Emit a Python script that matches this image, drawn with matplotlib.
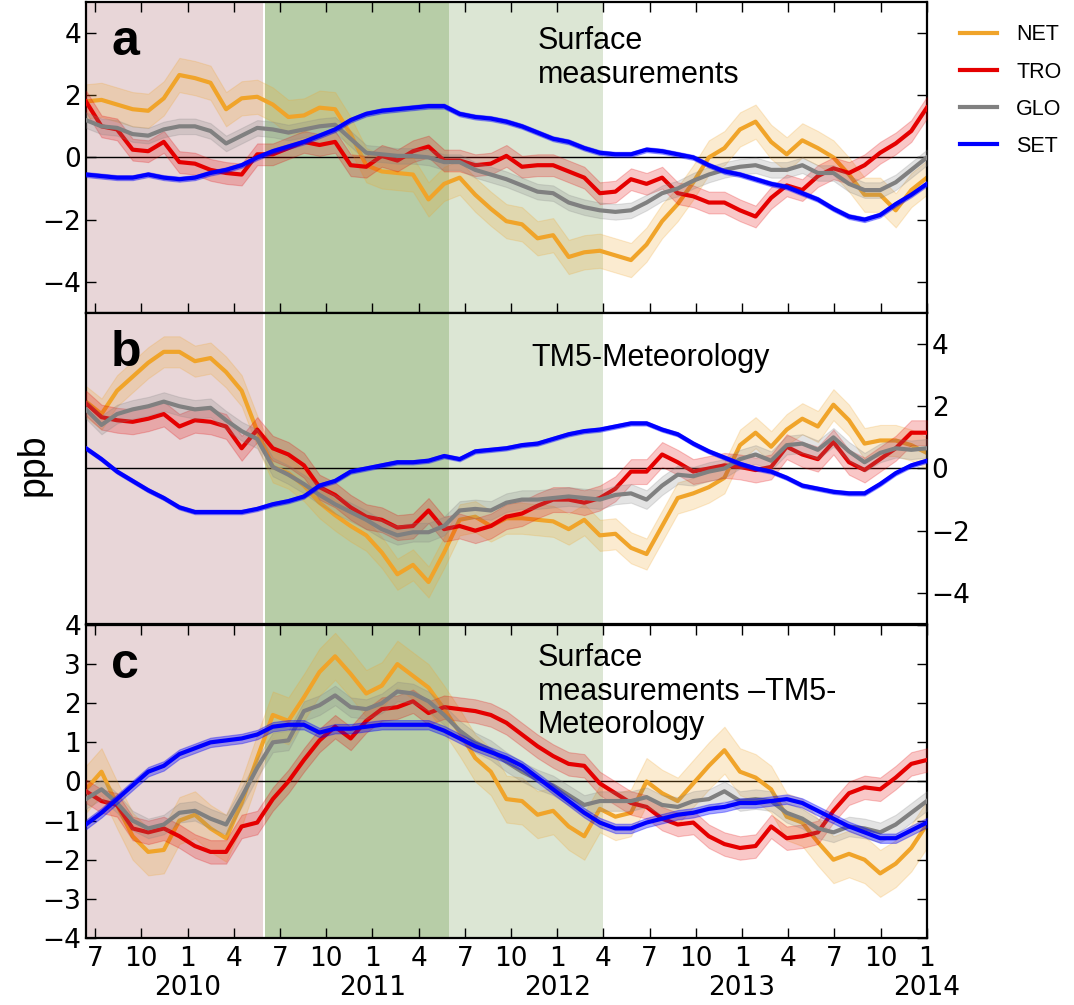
import numpy as np
import matplotlib.pyplot as plt
import matplotlib.transforms as mtransforms

# series order and colours
names = ['NET', 'TRO', 'GLO', 'SET']
colors = ['#F0A42A', '#E50000', '#808080', '#0000FF']

# monthly points, time in months since Jan 2009 (first point ~ late Jun 2009, last Jan 2014)
n_pts = 55
months = np.linspace(5.4, 60.0, n_pts)

# panel a: surface measurements
net_a = [1.8, 1.85, 1.7, 1.55, 1.5, 1.9, 2.65, 2.55, 2.4, 1.55, 1.9, 1.95, 1.7, 1.3, 1.35,
         1.6, 1.55, 0.75, -0.25, -0.45, -0.5, -0.55, -1.35, -0.85, -0.65, -1.2, -1.65, -2.05,
         -2.15, -2.6, -2.5, -3.2, -3.05, -3.0, -3.15, -3.3, -2.8, -2.05, -1.5, -0.8, 0.0, 0.3,
         0.9, 1.15, 0.5, 0.1, 0.55, 0.3, 0.0, -0.55, -1.2, -1.2, -1.7, -1.05, -0.65]
tro_a = [1.8, 1.0, 0.9, 0.25, 0.2, 0.5, -0.15, -0.2, -0.4, -0.5, -0.55, 0.1, 0.1, 0.3, 0.5,
         0.4, 0.5, -0.25, -0.3, 0.05, -0.1, 0.2, 0.35, -0.1, -0.1, -0.25, -0.2, 0.05, -0.3,
         -0.25, -0.25, -0.45, -0.65, -1.15, -1.1, -0.7, -0.85, -0.65, -1.15, -1.25, -1.45,
         -1.45, -1.7, -1.9, -1.3, -0.9, -1.05, -0.6, -0.35, -0.5, -0.25, 0.15, 0.45, 0.85, 1.6]
glo_a = [1.2, 1.0, 0.95, 0.75, 0.7, 0.9, 1.0, 1.0, 0.85, 0.45, 0.7, 0.95, 0.9, 0.8, 0.9,
         1.0, 1.05, 0.6, 0.15, 0.1, 0.05, 0.05, 0.0, -0.15, -0.15, -0.4, -0.55, -0.7, -0.9,
         -1.1, -1.15, -1.45, -1.6, -1.7, -1.75, -1.7, -1.45, -1.15, -1.0, -0.75, -0.55, -0.4,
         -0.3, -0.25, -0.4, -0.4, -0.25, -0.5, -0.5, -0.85, -1.05, -1.05, -0.8, -0.4, 0.0]
set_a = [-0.55, -0.6, -0.65, -0.65, -0.55, -0.65, -0.7, -0.65, -0.5, -0.4, -0.25, 0.0, 0.2,
         0.35, 0.5, 0.7, 0.9, 1.2, 1.4, 1.5, 1.55, 1.6, 1.65, 1.65, 1.4, 1.3, 1.25, 1.15, 1.0,
         0.8, 0.6, 0.5, 0.3, 0.15, 0.1, 0.1, 0.25, 0.2, 0.1, 0.0, -0.25, -0.45, -0.55, -0.7,
         -0.85, -0.95, -1.15, -1.35, -1.65, -1.9, -2.0, -1.85, -1.5, -1.2, -0.85]

# panel b: TM5-Meteorology
net_b = [2.15, 1.75, 2.5, 2.95, 3.4, 3.75, 3.75, 3.45, 3.55, 3.1, 2.5, 1.2, 0.05, -0.15, -0.55,
         -1.1, -1.5, -1.85, -2.15, -2.7, -3.4, -3.1, -3.65, -2.7, -1.65, -1.55, -1.85, -1.6,
         -1.6, -1.65, -1.7, -1.95, -1.65, -2.15, -2.1, -2.55, -2.75, -1.85, -0.95, -0.8, -0.6,
         -0.3, 0.75, 1.15, 0.7, 1.25, 1.6, 1.35, 2.05, 1.55, 0.8, 0.9, 0.9, 0.75, 0.5]
tro_b = [2.1, 1.65, 1.55, 1.5, 1.6, 1.75, 1.35, 1.55, 1.5, 1.35, 0.65, 1.25, 0.65, 0.45, 0.1,
         -0.6, -0.85, -1.25, -1.55, -1.65, -1.9, -1.85, -1.35, -1.95, -1.85, -2.0, -1.85,
         -1.55, -1.45, -1.2, -1.0, -1.0, -1.1, -0.95, -0.65, -0.1, -0.1, 0.45, 0.2, -0.1, 0.0,
         0.1, 0.05, -0.05, 0.05, 0.7, 0.45, 0.3, 0.85, 0.2, -0.05, 0.3, 0.65, 1.15, 1.15]
glo_b = [1.9, 1.4, 1.75, 1.9, 2.0, 2.15, 2.0, 1.9, 1.95, 1.55, 1.2, 0.95, 0.05, -0.2, -0.5,
         -0.85, -1.15, -1.4, -1.65, -1.95, -2.15, -2.05, -2.05, -1.85, -1.35, -1.3, -1.35,
         -1.1, -1.0, -1.0, -0.95, -0.9, -0.95, -1.0, -0.85, -0.8, -1.0, -0.55, -0.2, -0.25,
         -0.1, 0.0, 0.3, 0.45, 0.25, 0.75, 0.8, 0.6, 1.0, 0.55, 0.2, 0.5, 0.65, 0.6, 0.65]
set_b = [0.65, 0.3, -0.1, -0.4, -0.7, -0.95, -1.25, -1.4, -1.4, -1.4, -1.4, -1.3, -1.15, -1.05,
         -0.9, -0.55, -0.4, -0.1, 0.0, 0.1, 0.2, 0.2, 0.25, 0.4, 0.3, 0.55, 0.6, 0.65, 0.75,
         0.8, 0.95, 1.1, 1.2, 1.25, 1.35, 1.45, 1.45, 1.25, 1.1, 0.8, 0.55, 0.35, 0.15, 0.0,
         -0.1, -0.3, -0.55, -0.65, -0.75, -0.8, -0.8, -0.5, -0.15, 0.1, 0.25]

# panel c: surface measurements - TM5-Meteorology
net_c = [-0.2, 0.25, -0.6, -1.4, -1.8, -1.75, -1.0, -0.85, -1.2, -1.45, -0.55, 0.6, 1.7, 1.55,
         2.15, 2.8, 3.2, 2.75, 2.25, 2.45, 3.0, 2.7, 2.4, 1.85, 1.25, 0.6, 0.25, -0.45, -0.5,
         -0.85, -0.75, -1.15, -1.4, -0.7, -0.9, -0.8, 0.0, -0.3, -0.5, -0.05, 0.4, 0.8, 0.25,
         0.1, -0.2, -0.9, -1.05, -1.55, -2.0, -1.85, -2.0, -2.35, -2.1, -1.7, -1.1]
tro_c = [-0.25, -0.5, -0.6, -1.2, -1.3, -1.2, -1.4, -1.65, -1.8, -1.8, -1.15, -1.05, -0.45,
         0.0, 0.55, 1.05, 1.4, 1.1, 1.55, 1.85, 1.9, 2.05, 1.75, 1.9, 1.85, 1.8, 1.7, 1.5, 1.2,
         0.9, 0.65, 0.45, 0.4, -0.05, -0.3, -0.55, -0.65, -0.95, -1.1, -1.05, -1.4, -1.6, -1.7,
         -1.65, -1.15, -1.45, -1.4, -1.3, -0.75, -0.3, -0.15, -0.2, 0.1, 0.45, 0.55]
glo_c = [-0.45, -0.2, -0.55, -1.0, -1.2, -1.1, -0.8, -0.75, -0.95, -1.1, -0.4, 0.35, 1.0, 1.05,
         1.8, 1.95, 2.2, 1.9, 1.85, 2.0, 2.3, 2.25, 2.05, 1.7, 1.3, 1.0, 0.8, 0.5, 0.25, 0.05,
         -0.1, -0.35, -0.6, -0.5, -0.5, -0.5, -0.4, -0.6, -0.65, -0.5, -0.45, -0.25, -0.5,
         -0.45, -0.5, -0.8, -0.95, -1.2, -1.3, -1.15, -1.2, -1.3, -1.1, -0.8, -0.5]
set_c = [-1.1, -0.8, -0.45, -0.1, 0.25, 0.4, 0.7, 0.85, 1.0, 1.05, 1.1, 1.2, 1.4, 1.45, 1.45,
         1.25, 1.35, 1.35, 1.4, 1.45, 1.45, 1.45, 1.45, 1.3, 1.1, 0.9, 0.75, 0.6, 0.4, 0.1,
         -0.2, -0.5, -0.8, -1.05, -1.2, -1.2, -1.05, -0.95, -0.85, -0.8, -0.7, -0.65, -0.55,
         -0.55, -0.5, -0.45, -0.55, -0.75, -0.95, -1.15, -1.3, -1.45, -1.45, -1.25, -1.05]

# uncertainty half-widths (NET, TRO, GLO, SET) per panel
spread_a = [0.55, 0.35, 0.25, 0.08]
spread_b = [0.5, 0.4, 0.3, 0.07]
spread_c = [0.6, 0.3, 0.25, 0.12]

panel_titles = ['Surface\nmeasurements', 'TM5-Meteorology',
                'Surface\nmeasurements \u2013TM5-\nMeteorology']
panel_letters = ['a', 'b', 'c']

# shaded periods (months since Jan 2009)
period_bounds = [(5.4, 16.87), (17.0, 29.0), (29.0, 39.0)]
period_colors = ['#E8D6D8', '#B7CDA7', '#DCE6D4']

txt_font = 'Liberation Sans'
plt.rcParams['font.family'] = 'DejaVu Sans'

fig = plt.figure(figsize=(10.74, 10.05), dpi=100)
ax_a = fig.add_axes([0.080, 0.6886, 0.783, 0.3095])
ax_b = fig.add_axes([0.080, 0.3791, 0.783, 0.3095], sharex=ax_a)
ax_c = fig.add_axes([0.080, 0.0667, 0.783, 0.3114], sharex=ax_a)
axes = [ax_a, ax_b, ax_c]

panels = [[net_a, tro_a, glo_a, set_a],
          [net_b, tro_b, glo_b, set_b],
          [net_c, tro_c, glo_c, set_c]]
spreads = [spread_a, spread_b, spread_c]

# ticks every 3 months, labelled by month number; year written under January
tick_months = np.arange(6, 61, 3)
tick_labels = [str(m % 12 + 1) for m in tick_months]
year_months = [m for m in tick_months if m % 12 == 0]

handles = []
for i, ax in enumerate(axes):
    for (x0, x1), c in zip(period_bounds, period_colors):
        ax.axvspan(x0, x1, color=c, lw=0, zorder=0)
    ax.axhline(0, color='black', lw=1, zorder=1)

    for j, vals in enumerate(panels[i]):
        vals = np.array(vals)
        alpha = 0.35 if names[j] == 'SET' else 0.22
        ax.fill_between(months, vals - spreads[i][j], vals + spreads[i][j],
                        color=colors[j], alpha=alpha, lw=0.8, zorder=2 + j)
        line, = ax.plot(months, vals, color=colors[j], lw=3, zorder=2.5 + j,
                        label=names[j])
        if i == 0:
            handles.append(line)

    ax.set_xlim(5.4, 60)
    for s in ax.spines.values():
        s.set_linewidth(1.6)
    ax.tick_params(direction='in', length=7, width=1, labelsize=19,
                   top=True, right=True, bottom=True, left=True)

    ax.text(0.03, 0.83, panel_letters[i], transform=ax.transAxes, fontsize=36,
            fontweight='bold', family=txt_font, va='baseline', zorder=10)

# y axes
ax_a.set_ylim(-5, 5)
ax_a.set_yticks([-4, -2, 0, 2, 4])
ax_b.set_ylim(-5, 5)
ax_b.set_yticks([-4, -2, 0, 2, 4])
ax_c.set_ylim(-4, 4)
ax_c.set_yticks(np.arange(-4, 5, 1))

# panel b: labels on right, no x ticks
ax_b.tick_params(axis='y', left=False, labelleft=False, right=True, labelright=True)
ax_b.tick_params(axis='x', top=False, bottom=False, labelbottom=False)
ax_a.tick_params(axis='x', labelbottom=False)

ax_c.set_xticks(tick_months)
ax_c.set_xticklabels(tick_labels)
ax_c.tick_params(axis='x', pad=6)

trans = mtransforms.blended_transform_factory(ax_c.transData, ax_c.transAxes)
for m in year_months:
    ax_c.text(m, -0.118, str(2009 + m // 12), transform=trans, fontsize=19,
              ha='center', va='top', clip_on=False)

# panel titles (baseline of the last line)
ax_a.text(0.537, 0.74, panel_titles[0], transform=ax_a.transAxes, fontsize=22,
          family=txt_font, va='baseline', linespacing=1.15)
ax_b.text(0.530, 0.829, panel_titles[1], transform=ax_b.transAxes, fontsize=22,
          family=txt_font, va='baseline')
ax_c.text(0.537, 0.655, panel_titles[2], transform=ax_c.transAxes, fontsize=22,
          family=txt_font, va='baseline', linespacing=1.15)

fig.text(0.031, 0.538, 'ppb', rotation=90, fontsize=27, family=txt_font,
         ha='center', va='center')

leg = fig.legend(handles, names, loc='upper left', bbox_to_anchor=(0.876, 0.995),
                 frameon=False, handlelength=1.7, handletextpad=0.9,
                 labelspacing=0.75, prop={'family': txt_font, 'size': 15.5})

fig.savefig('out.png', dpi=100)
